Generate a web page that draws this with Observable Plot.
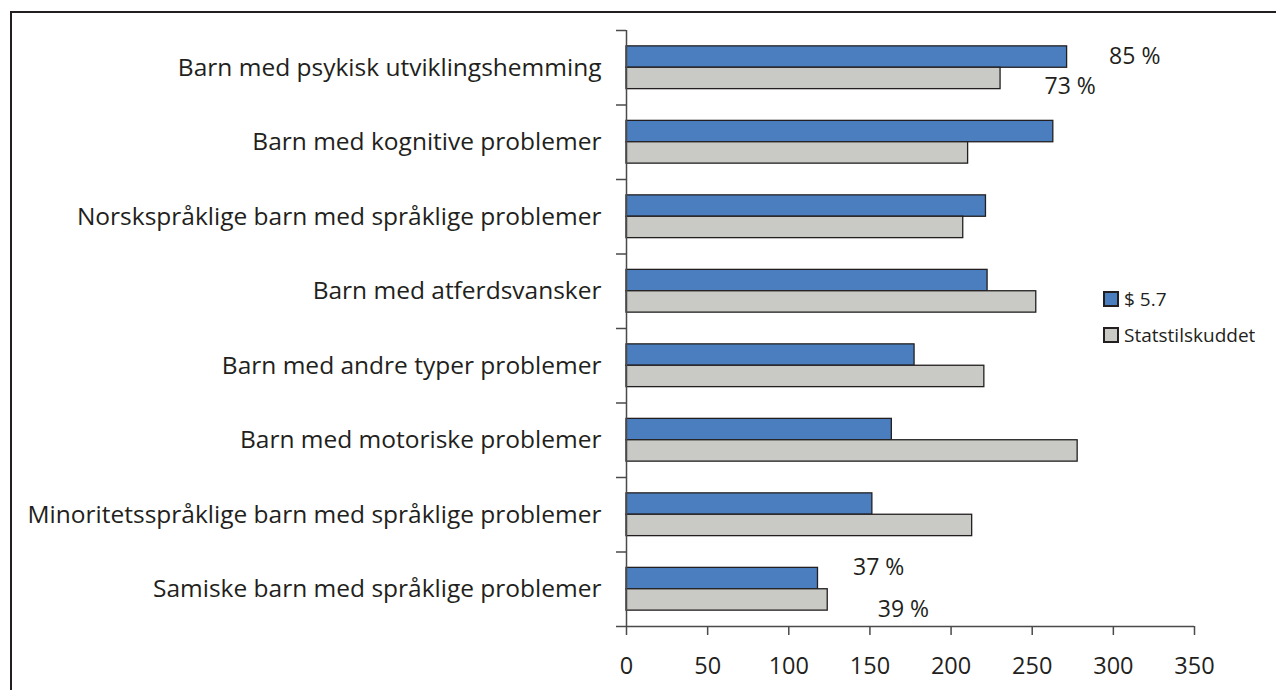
<!DOCTYPE html>
<html><head><meta charset="utf-8">
<script src="https://cdn.jsdelivr.net/npm/d3@7"></script>
<script src="https://cdn.jsdelivr.net/npm/@observablehq/plot@0.6"></script>
<style>
html,body{margin:0;padding:0;background:#fff;overflow:hidden;}
#wrap{position:relative;width:1276px;height:690px;overflow:hidden;}
#frame{position:absolute;left:10px;top:11px;width:1400px;height:800px;border-left:2px solid #231f20;border-top:2px solid #231f20;}
#chart{position:absolute;left:0;top:0;}
#legend{position:absolute;left:1104px;top:281px;}
#legend .lg-swatches{font-family:"Open Sans",sans-serif !important;font-size:19px !important;color:#231f20 !important;margin:0 !important;}
#legend .lg-swatch{height:36px;display:flex;align-items:center;padding:0 !important;}
#legend .lg-swatch svg{margin-right:6px !important;}
#legend .lg-swatch svg rect{stroke:#231f20;stroke-width:2px;}
</style></head><body>
<div id="wrap"><div id="frame"></div><div id="chart"></div><div id="legend"></div></div>
<script>
const categories = [
  "Barn med psykisk utviklingshemming",
  "Barn med kognitive problemer",
  "Norskspråklige barn med språklige problemer",
  "Barn med atferdsvansker",
  "Barn med andre typer problemer",
  "Barn med motoriske problemer",
  "Minoritetsspråklige barn med språklige problemer",
  "Samiske barn med språklige problemer"
];
const series = ["$ 5.7", "Statstilskuddet"];
const values57 = [271.5, 263, 221.5, 222.5, 177.5, 163.5, 151.5, 118];
const valuesStat = [230.5, 210.5, 207.5, 252.5, 220.5, 278, 213, 124];
const xTicks = [0, 50, 100, 150, 200, 250, 300, 350];
const seriesColors = ["#4a7ebf", "#c9cac5"];
const annotationLabels = ["85 %", "73 %", "37 %", "39 %"];
const annotationCategory = [0, 0, 7, 7];
const annotationSeries = [0, 1, 0, 1];

// layout (not data)
const annotationDx = [42, 44, 35, 50];
const annotationDy = [0, 8, -11, 10];
const barOffset = [[0.213, 0.5], [0.5, 0.787]];

const rows = categories.flatMap((c, i) => series.map((s, j) => ({
  category: c, index: i, series: s, sIndex: j,
  value: j === 0 ? values57[i] : valuesStat[i]
})));
const annotations = annotationLabels.map((label, k) => {
  const i = annotationCategory[k], j = annotationSeries[k];
  return {label, index: i, sIndex: j, value: j === 0 ? values57[i] : valuesStat[i], dx: annotationDx[k], dy: annotationDy[k]};
});

const ink = "#231f20";
const axisInk = "#4a4a4a";

const plot = Plot.plot({
  width: 1276,
  height: 690,
  marginLeft: 626,
  marginRight: 82,
  marginTop: 30,
  marginBottom: 64,
  style: {fontFamily: "'Open Sans', sans-serif", color: ink, background: "transparent"},
  x: {domain: [0, 350], axis: null, label: null},
  y: {domain: [0, categories.length], reverse: true, axis: null, label: null},
  color: {domain: series, range: seriesColors},
  marks: [
    Plot.rectX(rows, {
      x: "value",
      y1: d => d.index + barOffset[d.sIndex][0],
      y2: d => d.index + barOffset[d.sIndex][1],
      fill: "series",
      stroke: ink,
      strokeWidth: 1.3
    }),
    Plot.ruleX([0], {y1: 0, y2: categories.length, stroke: axisInk, strokeWidth: 1.5}),
    Plot.ruleY([categories.length], {x1: 0, x2: 350, stroke: axisInk, strokeWidth: 1.5}),
    Plot.axisY(d3.range(categories.length + 1), {tickSize: 10, tickFormat: () => "", label: null, stroke: axisInk, strokeWidth: 1.5}),
    Plot.axisY(categories.map((_, i) => i + 0.5), {
      tickSize: 0, tickPadding: 25, fontSize: 24.5, label: null,
      tickFormat: d => categories[Math.round(d - 0.5)], fill: ink
    }),
    Plot.axisX(xTicks, {tickSize: 9, tickPadding: 22, fontSize: 23.5, label: null, stroke: axisInk, strokeWidth: 1.5, fill: ink}),
    Plot.text(annotations, {
      x: "value",
      y: d => d.index + (barOffset[d.sIndex][0] + barOffset[d.sIndex][1]) / 2,
      text: "label",
      textAnchor: "start",
      fontSize: 23,
      fill: ink
    })
  ]
});
document.getElementById("chart").append(plot);
// per-annotation nudges
const texts = plot.querySelectorAll("g[aria-label='text'] text");
texts.forEach((t, k) => {
  const a = annotations[k];
  const prev = t.getAttribute("transform");
  t.setAttribute("transform", `translate(${a.dx},${a.dy})` + (prev ? " " + prev : ""));
});

const legend = plot.legend("color", {legend: "swatches", columns: 1, swatchSize: 14, className: "lg"});
document.getElementById("legend").append(legend);
</script>
</body></html>
